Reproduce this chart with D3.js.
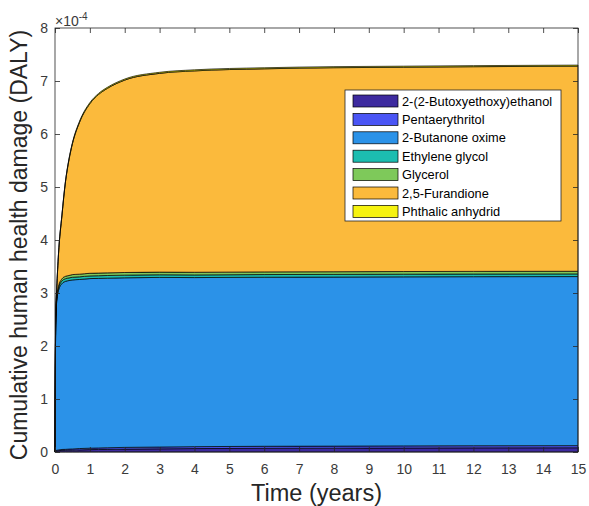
<!DOCTYPE html>
<html><head><meta charset="utf-8">
<script src="https://cdn.jsdelivr.net/npm/d3@7"></script>
<style>body{margin:0;background:#fff}svg{display:block;font-family:"Liberation Sans",Arial,sans-serif}</style>
</head><body><svg id="c" width="589" height="506"></svg>
<script>
// Time points (years)
const times = [0, 0.02, 0.05, 0.1, 0.2, 0.3, 0.4, 0.5, 0.7, 1, 1.25, 1.5, 2, 3, 4, 6, 8, 10, 12, 15];
// Series values (x1e-4 DALY), stacked bottom to top
const butoxyethoxyethanol = [0, 0.02, 0.02, 0.025, 0.03, 0.03, 0.035, 0.035, 0.04, 0.045, 0.048, 0.05, 0.055, 0.06, 0.065, 0.07, 0.072, 0.075, 0.078, 0.08];
const pentaerythritol     = [0, 0.01, 0.012, 0.015, 0.018, 0.02, 0.02, 0.022, 0.025, 0.027, 0.028, 0.03, 0.032, 0.034, 0.036, 0.038, 0.039, 0.04, 0.04, 0.04];
const butanoneOxime       = [0, 2.37, 2.82, 3.01, 3.13, 3.17, 3.18, 3.19, 3.19, 3.2, 3.2, 3.2, 3.2, 3.2, 3.19, 3.19, 3.19, 3.19, 3.19, 3.19];
const ethyleneGlycol      = [0, 0.03, 0.04, 0.045, 0.05, 0.05, 0.05, 0.05, 0.05, 0.05, 0.05, 0.05, 0.05, 0.05, 0.05, 0.05, 0.05, 0.05, 0.05, 0.05];
const glycerol            = [0, 0.02, 0.03, 0.035, 0.04, 0.045, 0.045, 0.05, 0.05, 0.05, 0.05, 0.05, 0.05, 0.05, 0.05, 0.05, 0.05, 0.05, 0.05, 0.05];
const furandione          = [0, 0.145, 0.168, 0.6, 1.2, 1.78, 2.18, 2.47, 2.86, 3.2, 3.37, 3.48, 3.63, 3.75, 3.8, 3.832, 3.85, 3.855, 3.862, 3.87];
const phthalicAnhydride   = [0, 0.005, 0.01, 0.01, 0.015, 0.015, 0.02, 0.02, 0.02, 0.02, 0.02, 0.02, 0.02, 0.02, 0.02, 0.02, 0.02, 0.02, 0.02, 0.02];

const seriesNames = ["2-(2-Butoxyethoxy)ethanol","Pentaerythritol","2-Butanone oxime","Ethylene glycol","Glycerol","2,5-Furandione","Phthalic anhydrid"];
const seriesValues = [butoxyethoxyethanol, pentaerythritol, butanoneOxime, ethyleneGlycol, glycerol, furandione, phthalicAnhydride];
const colors = ["#3d2a9f","#4a55f5","#2b92e8","#1cbdb0","#7ec95a","#fbba3c","#f6f30f"];
const xTicks = d3.range(0, 16, 1);
const yTicks = d3.range(0, 9, 1);

const svg = d3.select("#c");
const L = 55, R = 578, T = 28, B = 452;
const x = d3.scaleLinear().domain([0, 15]).range([L, R]);
const y = d3.scaleLinear().domain([0, 8]).range([B, T]);

const rows = times.map((t, i) => {
  const o = {t};
  seriesNames.forEach((n, k) => o[n] = seriesValues[k][i]);
  return o;
});
const stack = d3.stack().keys(seriesNames)(rows);
const area = d3.area().x(d => x(d.data.t)).y0(d => y(d[0])).y1(d => y(d[1])).curve(d3.curveMonotoneX);

const g = svg.append("g");
g.selectAll("path.layer").data(stack).join("path")
  .attr("class", "layer")
  .attr("d", area)
  .attr("fill", (d, i) => colors[i])
  .attr("stroke", "#000")
  .attr("stroke-width", 0.7)
  .attr("stroke-linejoin", "round");

// axes box
const axisColor = "#262626";
svg.append("rect").attr("x", L).attr("y", T).attr("width", R - L).attr("height", B - T)
  .attr("fill", "none").attr("stroke", axisColor).attr("stroke-width", 0.8);

const xb = svg.append("g").attr("transform", `translate(0,${B})`)
  .call(d3.axisBottom(x).tickValues(xTicks).tickSize(-5).tickPadding(12).tickFormat(d3.format("d")));
const xt = svg.append("g").attr("transform", `translate(0,${T})`)
  .call(d3.axisTop(x).tickValues(xTicks).tickSize(-5).tickFormat(""));
const yl = svg.append("g").attr("transform", `translate(${L},0)`)
  .call(d3.axisLeft(y).tickValues(yTicks).tickSize(-5).tickPadding(7).tickFormat(d3.format("d")));
const yr = svg.append("g").attr("transform", `translate(${R},0)`)
  .call(d3.axisRight(y).tickValues(yTicks).tickSize(-5).tickFormat(""));
[xb, xt, yl, yr].forEach(a => {
  a.select(".domain").remove();
  a.selectAll("line").attr("stroke", axisColor).attr("stroke-width", 0.8);
  a.selectAll("text").attr("fill", "#3a3a3a").style("font-size", "14px").style("font-family", '"Liberation Sans",Arial,sans-serif');
});

// multiplier
const m = svg.append("text").attr("x", 55).attr("y", 26).attr("fill", "#3a3a3a").style("font-size", "14px");
m.append("tspan").text("×10");
m.append("tspan").attr("dy", -6).style("font-size", "10px").text("-4");

// axis titles
svg.append("text").attr("x", (L + R) / 2).attr("y", 501).attr("text-anchor", "middle")
  .attr("fill", axisColor).style("font-size", "23.5px").text("Time (years)");
svg.append("text").attr("transform", `translate(27,${(T + B) / 2 + 5}) rotate(-90)`).attr("text-anchor", "middle")
  .attr("fill", axisColor).style("font-size", "23px").text("Cumulative human health damage (DALY)");

// legend
const lg = svg.append("g");
lg.append("rect").attr("x", 345).attr("y", 90).attr("width", 216).attr("height", 131)
  .attr("fill", "#fff").attr("stroke", axisColor).attr("stroke-width", 0.8);
seriesNames.forEach((n, i) => {
  const cy = 101 + i * 18.4;
  lg.append("rect").attr("x", 353).attr("y", cy - 6).attr("width", 45).attr("height", 12)
    .attr("fill", colors[i]).attr("stroke", "#000").attr("stroke-width", 0.7);
  lg.append("text").attr("x", 402).attr("y", cy + 4.5).attr("fill", "#000").style("font-size", "12.8px").text(n);
});
</script></body></html>
